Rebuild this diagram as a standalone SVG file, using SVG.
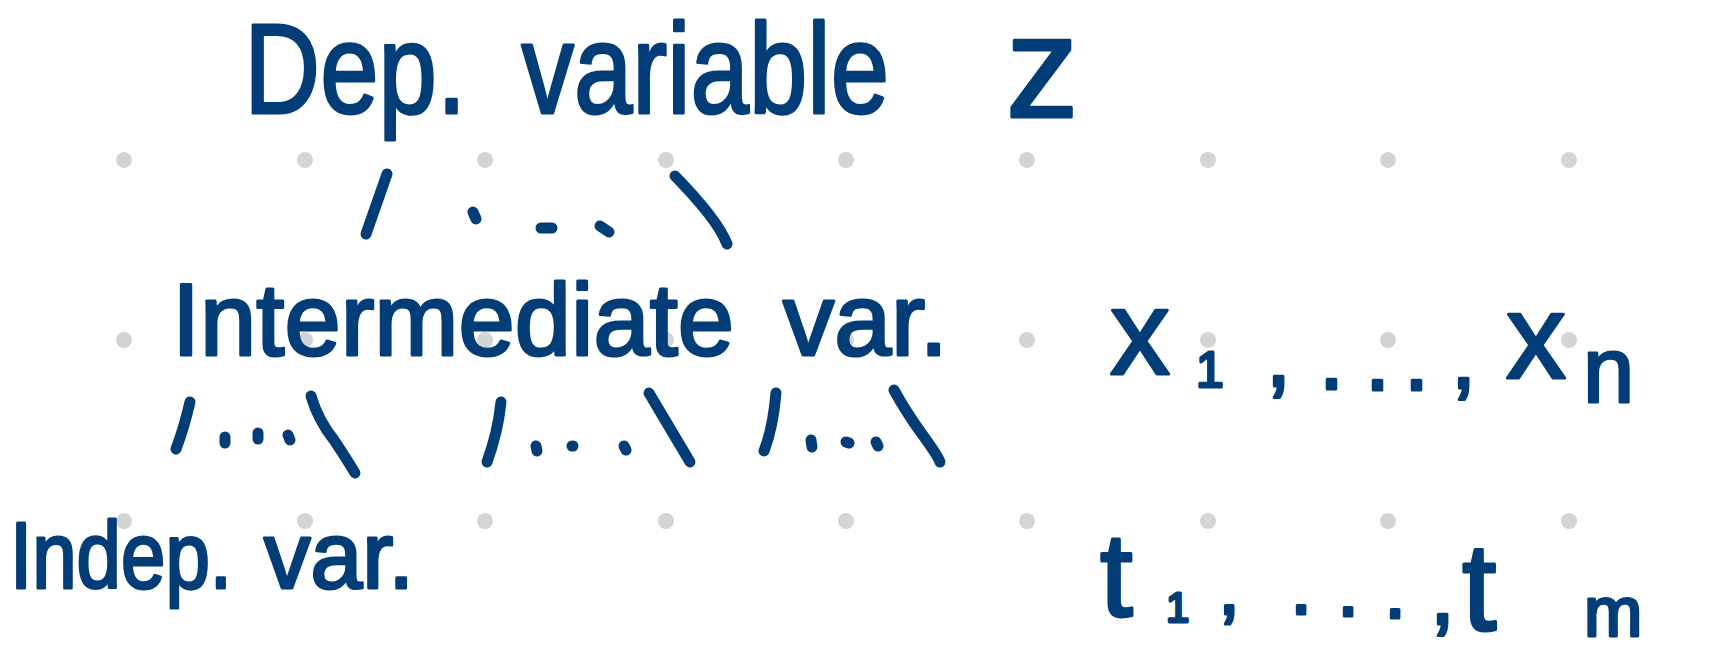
<svg xmlns="http://www.w3.org/2000/svg" width="1725" height="670" viewBox="0 0 1725 670">
<style>
.t{font-family:"Liberation Sans",Arial,sans-serif;fill:#033d78;stroke:#033d78;stroke-width:3;stroke-linejoin:round;}
.c{fill:none;stroke:#033d78;stroke-width:11;stroke-linecap:round;stroke-linejoin:round;}
.g{fill:#d4d4d4;}
</style>
<rect width="1725" height="670" fill="#ffffff"/>
<g id="grid">
<circle class="g" cx="124" cy="160" r="8"/><circle class="g" cx="305" cy="160" r="8"/><circle class="g" cx="485" cy="160" r="8"/><circle class="g" cx="666" cy="160" r="8"/><circle class="g" cx="846" cy="160" r="8"/><circle class="g" cx="1027" cy="160" r="8"/><circle class="g" cx="1208" cy="160" r="8"/><circle class="g" cx="1388" cy="160" r="8"/><circle class="g" cx="1569" cy="160" r="8"/>
<circle class="g" cx="124" cy="340" r="8"/><circle class="g" cx="305" cy="340" r="8"/><circle class="g" cx="485" cy="340" r="8"/><circle class="g" cx="666" cy="340" r="8"/><circle class="g" cx="846" cy="340" r="8"/><circle class="g" cx="1027" cy="340" r="8"/><circle class="g" cx="1208" cy="340" r="8"/><circle class="g" cx="1388" cy="340" r="8"/><circle class="g" cx="1569" cy="340" r="8"/>
<circle class="g" cx="124" cy="521" r="8"/><circle class="g" cx="305" cy="521" r="8"/><circle class="g" cx="485" cy="521" r="8"/><circle class="g" cx="666" cy="521" r="8"/><circle class="g" cx="846" cy="521" r="8"/><circle class="g" cx="1027" cy="521" r="8"/><circle class="g" cx="1208" cy="521" r="8"/><circle class="g" cx="1388" cy="521" r="8"/><circle class="g" cx="1569" cy="521" r="8"/>
</g>
<g id="connectors">
<path class="c" d="M387,174 L366,234"/>
<path class="c" d="M473,212 L476,219"/>
<path class="c" d="M541,228 L552,228"/>
<path class="c" d="M600,226 L609,232"/>
<path class="c" d="M675,176 Q718,220 727,244"/>
<path class="c" d="M190,402 Q184,428 176,449"/>
<path class="c" d="M225,437 L225,443"/>
<path class="c" d="M258,433 L258,439"/>
<path class="c" d="M288,435 L290,440"/>
<path class="c" d="M311,396 Q318,420 334,440 Q346,458 355,473"/>
<path class="c" d="M501,402 Q498,432 487,462"/>
<path class="c" d="M536,446 L537,451"/>
<path class="c" d="M572,446 L573,446"/>
<path class="c" d="M624,446 L626,450"/>
<path class="c" d="M649,393 L690,462"/>
<path class="c" d="M776,393 Q773,428 764,451"/>
<path class="c" d="M811,440 L812,447"/>
<path class="c" d="M846,442 L849,443"/>
<path class="c" d="M876,442 L878,446"/>
<path class="c" d="M894,390 Q906,412 922,434 Q938,456 940,462"/>
</g>
<g id="dep-var">
<text class="t" font-size="128" transform="scale(0.82,1)" y="113"><tspan x="298">Dep.</tspan><tspan x="636">variable</tspan></text>
</g>
<g id="z">
<text class="t" font-size="145" x="1006" y="117">z</text>
</g>
<g id="intermediate-var">
<text class="t" font-size="102" y="355"><tspan x="172" textLength="562" lengthAdjust="spacingAndGlyphs">Intermediate</tspan><tspan x="783" textLength="165" lengthAdjust="spacingAndGlyphs">var.</tspan></text>
</g>
<g id="x-vars">
<text class="t" y="374"><tspan x="1110" font-size="120">x</tspan><tspan x="1196" y="387" font-size="50">1</tspan><tspan x="1266" y="386" font-size="90">,</tspan><tspan x="1319" y="389" font-size="90">.</tspan><tspan x="1365" y="390" font-size="90">.</tspan><tspan x="1404" y="390" font-size="90">.</tspan><tspan x="1451" y="388" font-size="90">,</tspan><tspan x="1506" y="378" font-size="120">x</tspan><tspan x="1583" y="402" font-size="92">n</tspan></text>
</g>
<g id="indep-var">
<text class="t" font-size="94" y="588"><tspan x="10" textLength="222" lengthAdjust="spacingAndGlyphs">Indep.</tspan><tspan x="264" textLength="150" lengthAdjust="spacingAndGlyphs">var.</tspan></text>
</g>
<g id="t-vars">
<text class="t" y="616"><tspan x="1100" font-size="118">t</tspan><tspan x="1166" y="622" font-size="42">1</tspan><tspan x="1218" y="614" font-size="80">,</tspan><tspan x="1290" y="614" font-size="80">.</tspan><tspan x="1337" y="616" font-size="80">.</tspan><tspan x="1384" y="618" font-size="80">.</tspan><tspan x="1430" y="624" font-size="90">,</tspan><tspan x="1462" y="630" font-size="124">t</tspan><tspan x="1584" y="636" font-size="70">m</tspan></text>
</g>
</svg>
